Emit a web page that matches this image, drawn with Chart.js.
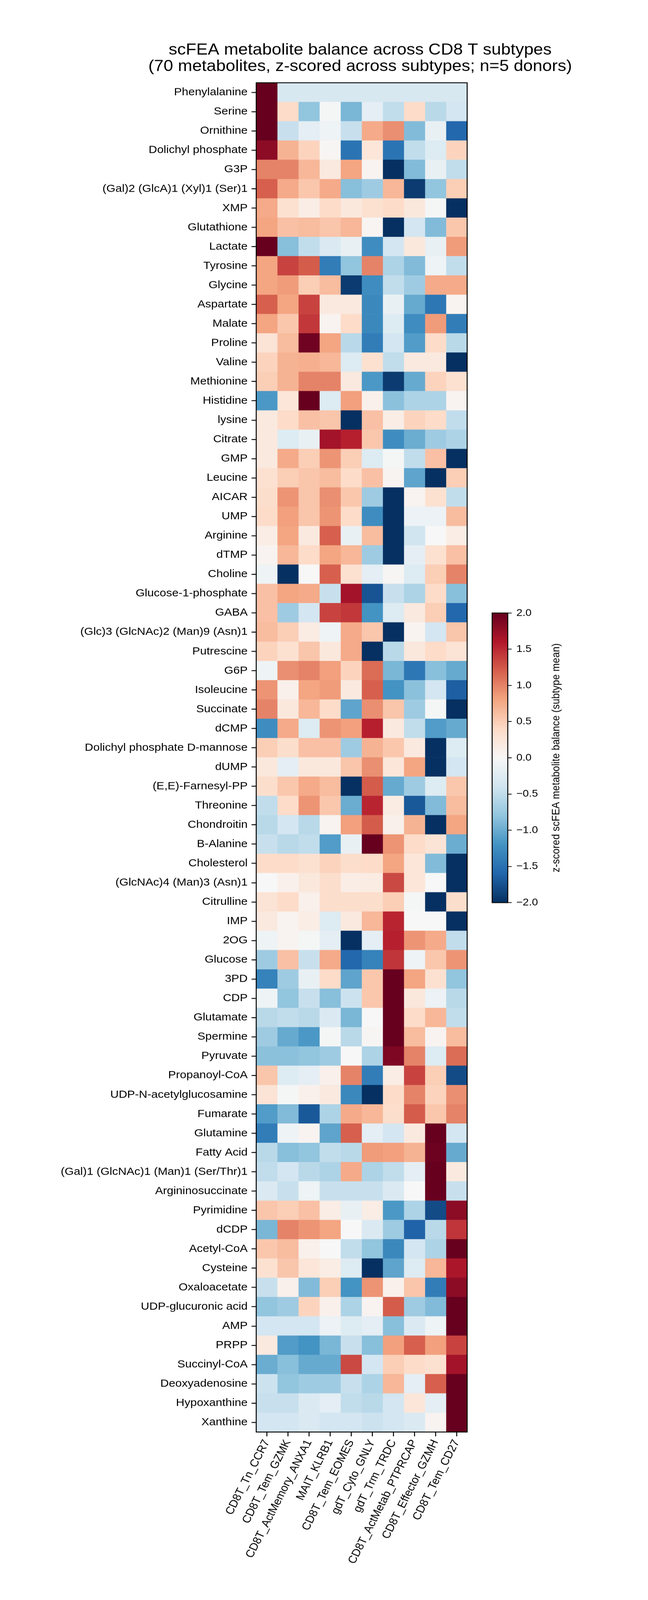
<!DOCTYPE html>
<html lang="en">
<head>
<meta charset="UTF-8">
<title>scFEA metabolite balance across CD8 T subtypes</title>
<script src="https://cdn.jsdelivr.net/npm/chart.js@4.4.1/dist/chart.umd.min.js"></script>
<style>
  html, body { margin: 0; padding: 0; overflow: hidden; background: #fff; }
  canvas { position: absolute; display: block; }
</style>
</head>
<body>
<!-- both canvases are sized in viewport units so the 1659x4486 drawing always fills the window -->
<canvas id="heatmap" width="1659" height="4486"
        style="left:0; top:0; width:100vw; height:100vh;"></canvas>
<canvas id="colorbar" width="260" height="870"
        style="left:calc(100vw * 1240 / 1659); top:calc(100vh * 1690 / 4486);
               width:calc(100vw * 260 / 1659); height:calc(100vh * 870 / 4486);"></canvas>

<script>
const titleLines = [
  'scFEA metabolite balance across CD8 T subtypes',
  '(70 metabolites, z-scored across subtypes; n=5 donors)'
];
const colorbarLabel = 'z-scored scFEA metabolite balance (subtype mean)';

// rows of the heatmap, top to bottom
const metabolites = [
  'Phenylalanine', 'Serine', 'Ornithine', 'Dolichyl phosphate', 'G3P',
  '(Gal)2 (GlcA)1 (Xyl)1 (Ser)1', 'XMP', 'Glutathione', 'Lactate', 'Tyrosine',
  'Glycine', 'Aspartate', 'Malate', 'Proline', 'Valine',
  'Methionine', 'Histidine', 'lysine', 'Citrate', 'GMP',
  'Leucine', 'AICAR', 'UMP', 'Arginine', 'dTMP',
  'Choline', 'Glucose-1-phosphate', 'GABA', '(Glc)3 (GlcNAc)2 (Man)9 (Asn)1', 'Putrescine',
  'G6P', 'Isoleucine', 'Succinate', 'dCMP', 'Dolichyl phosphate D-mannose',
  'dUMP', '(E,E)-Farnesyl-PP', 'Threonine', 'Chondroitin', 'B-Alanine',
  'Cholesterol', '(GlcNAc)4 (Man)3 (Asn)1', 'Citrulline', 'IMP', '2OG',
  'Glucose', '3PD', 'CDP', 'Glutamate', 'Spermine',
  'Pyruvate', 'Propanoyl-CoA', 'UDP-N-acetylglucosamine', 'Fumarate', 'Glutamine',
  'Fatty Acid', '(Gal)1 (GlcNAc)1 (Man)1 (Ser/Thr)1', 'Argininosuccinate', 'Pyrimidine', 'dCDP',
  'Acetyl-CoA', 'Cysteine', 'Oxaloacetate', 'UDP-glucuronic acid', 'AMP',
  'PRPP', 'Succinyl-CoA', 'Deoxyadenosine', 'Hypoxanthine', 'Xanthine'
];

// columns, left to right
const subtypes = [
  'CD8T_Tn_CCR7', 'CD8T_Tem_GZMK', 'CD8T_ActMemory_ANXA1', 'MAIT_KLRB1', 'CD8T_Tem_EOMES',
  'gdT_Cyto_GNLY', 'gdT_Trm_TRDC', 'CD8T_ActMetab_PTPRCAP', 'CD8T_Effector_GZMH', 'CD8T_Tem_CD27'
];

// z-scores per subtype, one value per metabolite (same order as above)
const tnCCR7 = [
  2.0, 2.0, 2.0, 1.8, 1.0, 1.2, 0.76, 0.8, 2.0, 0.8,
  0.8, 1.2, 0.8, 0.28, 0.45, 0.5, -1.16, 0.2, 0.2, 0.2,
  0.32, 0.36, 0.38, 0.15, 0.06, -0.1, 0.6, 0.6, 0.63, 0.45,
  -0.1, 0.9, 1.0, -1.25, 0.5, 0.22, 0.36, -0.5, -0.55, -0.46,
  0.38, 0.0, 0.28, 0.2, -0.1, -0.72, -1.35, -0.1, -0.55, -0.72,
  -0.83, 0.56, 0.28, -1.13, -1.4, -0.55, -0.5, -0.3, 0.56, -0.92,
  0.55, 0.32, -0.46, -0.8, -0.37, 0.2, -1.0, -0.43, -0.46, -0.37
];
const temGZMK = [
  -0.33, 0.38, -0.46, 0.7, 1.0, 0.76, 0.32, 0.6, -0.85, 1.36,
  0.85, 0.8, 0.55, 0.63, 0.7, 0.7, 0.25, 0.38, -0.27, 0.76,
  0.5, 0.9, 0.83, 0.8, 0.67, -2.0, 0.8, -0.72, 0.5, 0.32,
  0.93, 0.1, 0.22, 0.76, 0.36, -0.2, 0.55, 0.38, -0.37, -0.55,
  0.38, 0.1, 0.38, 0.06, 0.06, 0.6, -0.72, -0.8, -0.5, -1.02,
  -0.83, -0.27, -0.03, -0.88, -0.1, -0.85, -0.37, -0.46, 0.5, 1.0,
  0.63, 0.56, 0.1, -0.72, -0.37, -1.13, -0.85, -0.8, -0.46, -0.37
];
const actMemANXA1 = [
  -0.33, -0.8, -0.2, 0.45, 0.67, 0.55, 0.15, 0.63, -0.5, 1.22,
  0.5, 1.36, 1.42, 1.95, 0.72, 1.0, 2.0, 0.6, -0.15, 0.5,
  0.56, 0.56, 0.56, 0.2, 0.38, 0.0, 0.76, -0.37, 0.17, 0.56,
  1.0, 0.8, 0.67, -0.27, 0.6, 0.22, 0.76, 0.9, -0.55, -0.5,
  0.32, 0.22, 0.1, 0.15, -0.03, -0.46, -0.15, -0.46, -0.55, -1.16,
  -0.8, -0.2, 0.1, -1.7, 0.06, -0.8, -0.55, -0.1, 0.6, 0.9,
  0.1, 0.25, -0.88, 0.45, -0.37, -1.2, -1.02, -0.72, -0.3, -0.3
];
const maitKLRB1 = [
  -0.33, -0.03, -0.1, 0.03, 0.2, 0.76, 0.38, 0.56, -0.3, -1.4,
  0.63, 0.2, 0.06, 0.8, 0.67, 1.0, -0.27, 0.56, 1.68, 0.9,
  0.63, 0.93, 0.9, 1.2, 0.8, 1.2, -0.46, 1.36, -0.1, 0.22,
  0.83, 0.85, 0.38, 0.9, 0.6, 0.22, 0.63, 0.55, 0.06, -1.13,
  0.45, 0.36, 0.36, -0.27, -0.2, 0.76, 0.38, -0.85, -0.3, -0.03,
  -0.72, 0.1, 0.2, -0.63, -1.06, -0.5, -0.63, -0.46, 0.15, 0.8,
  0.0, 0.15, 0.5, 0.1, -0.12, -0.92, -1.02, -0.72, -0.2, -0.37
];
const temEOMES = [
  -0.33, -0.92, -0.46, -1.48, 0.8, -0.85, 0.22, 0.67, -0.15, -0.8,
  -1.92, 0.2, 0.38, -0.55, -0.27, 0.2, 0.83, -2.0, 1.56, 0.5,
  0.38, 0.55, 0.38, -0.15, 0.67, 0.32, 1.68, 1.42, 0.76, 0.76,
  0.45, 0.2, -1.06, 0.83, -0.72, 0.56, -2.0, -1.0, 0.83, -0.15,
  0.36, 0.15, 0.36, 0.2, -2.0, -1.58, -1.06, -0.43, -0.92, -0.55,
  0.0, 1.0, -1.3, 0.76, 1.2, -0.55, 0.76, -0.46, -0.15, 0.0,
  -0.5, -0.27, -1.2, -0.63, -0.27, -0.46, 1.33, -0.46, -0.5, -0.37
];
const cytoGNLY = [
  -0.33, -0.2, 0.76, 0.25, 0.06, -0.72, 0.32, 0.04, -1.25, 1.0,
  -1.25, -1.3, -1.3, -1.4, 0.32, -1.16, 0.1, 0.6, 0.55, -0.27,
  0.6, -0.72, -1.25, 0.63, -0.72, -0.2, -1.73, -1.2, 0.55, -2.0,
  1.13, 1.2, 0.93, 1.56, 0.7, 0.93, 1.22, 1.53, 1.22, 2.0,
  0.38, 0.17, 0.36, 0.67, -0.2, -1.35, 0.55, 0.55, 0.0, 0.03,
  -0.63, -1.4, -2.0, 0.67, -0.2, 0.85, -0.63, -0.46, 0.15, -0.3,
  -0.8, -2.0, 0.9, 0.06, -0.2, -0.85, -0.37, -0.63, -0.55, -0.43
];
const trmTRDC = [
  -0.33, -0.5, 0.93, -1.48, -2.0, 0.67, 0.38, -2.0, -0.37, -0.63,
  -0.5, -0.15, -0.27, -0.37, -0.5, -1.92, -0.83, 0.15, -1.25, -0.03,
  0.06, -2.0, -2.0, -2.0, -2.0, 0.03, -0.46, -0.27, -2.0, -0.55,
  -0.92, -1.2, 0.56, 0.2, 0.55, 0.25, -1.02, 0.17, 0.1, 0.9,
  0.8, 1.33, 0.5, 1.53, 1.56, 1.44, 2.0, 2.0, 2.0, 2.0,
  1.88, 0.15, 0.38, 0.36, -0.37, 0.83, -0.5, -0.3, -1.16, -0.72,
  -1.3, -1.06, 0.1, 1.22, -0.85, 0.83, 0.5, 0.67, -0.37, -0.37
];
const actMetabPTPRCAP = [
  -0.33, 0.38, -0.88, -0.5, -0.88, -1.92, 0.22, -0.37, 0.22, -0.88,
  -0.72, -1.02, -1.25, -1.13, 0.2, -1.02, -0.63, 0.45, -1.0, -0.5,
  -1.06, 0.06, -0.12, -0.4, -0.2, -0.27, -0.63, 0.2, 0.06, 0.22,
  -1.45, -0.83, -0.72, -0.5, 0.2, 0.8, -0.72, -1.7, 0.7, 0.38,
  0.25, 0.25, -0.03, 0.0, 0.9, -0.1, 0.8, 0.22, 0.38, 0.63,
  1.0, 1.36, 1.0, 1.22, 0.2, 0.7, -0.2, 0.0, -0.63, -1.62,
  -0.37, -0.27, 0.56, -0.72, -0.3, 1.2, 0.38, -0.2, 0.25, -0.3
];
const effectorGZMH = [
  -0.33, -0.55, -0.15, -0.27, -0.15, -0.8, -0.03, -0.88, -0.15, -0.1,
  0.76, -1.45, 0.85, 0.38, 0.2, 0.45, -0.63, 0.38, -0.72, 0.6,
  -2.0, 0.32, -0.12, 0.0, 0.32, 0.5, 0.38, 0.5, -0.37, 0.38,
  -0.85, -0.37, -0.03, -1.13, -2.0, -2.0, -0.27, -0.88, -2.0, 0.28,
  -0.88, 0.0, -2.0, 0.0, 0.76, 0.55, 0.32, -0.12, 0.67, 0.06,
  -0.27, 0.5, 0.45, 0.55, 2.0, 1.97, 2.0, 2.0, -1.8, -0.55,
  -0.63, 0.67, -1.4, -0.88, -0.1, 0.83, 0.32, 1.2, -0.2, 0.06
];
const temCD27 = [
  -0.33, -0.37, -1.58, 0.45, -0.5, 0.5, -2.0, 0.55, 0.85, -0.5,
  0.76, 0.06, -1.4, -0.55, -2.0, 0.32, 0.06, -0.5, -0.63, -2.0,
  0.5, -0.5, 0.63, 0.15, 0.6, 1.0, -0.85, -1.58, 0.56, 0.28,
  -1.02, -1.65, -2.0, -1.02, -0.27, -0.37, 0.55, 0.63, 0.8, -1.0,
  -2.0, -2.0, 0.36, -2.0, -0.5, 0.9, -0.8, -0.55, -0.5, 0.63,
  1.13, -1.8, 0.93, 1.0, -0.37, -1.02, 0.2, -0.46, 1.8, 1.44,
  2.0, 1.64, 1.8, 2.0, 2.0, 1.36, 1.68, 2.0, 2.0, 2.0
];

const columns = [tnCCR7, temGZMK, actMemANXA1, maitKLRB1, temEOMES,
                 cytoGNLY, trmTRDC, actMetabPTPRCAP, effectorGZMH, temCD27];

const colorbarTicks = [-2, -1.5, -1, -0.5, 0, 0.5, 1, 1.5, 2];

// RdBu_r, evenly spaced from -2 to 2
const rdbu = ['#053061', '#2166ac', '#4393c3', '#92c5de', '#d1e5f0', '#f7f7f7',
              '#fddbc7', '#f4a582', '#d6604d', '#b2182b', '#67001f'];
const vmin = -2, vmax = 2;

const FONT = '"Liberation Sans", Arial, Helvetica, sans-serif';

function hexToRgb(h) {
  return [1, 3, 5].map(i => parseInt(h.substr(i, 2), 16));
}
const rdbuRgb = rdbu.map(hexToRgb);

function rdbuColor(v) {
  const t = (Math.min(vmax, Math.max(vmin, v)) - vmin) / (vmax - vmin) * (rdbu.length - 1);
  const i = Math.min(rdbu.length - 2, Math.floor(t));
  const f = t - i;
  const a = rdbuRgb[i], b = rdbuRgb[i + 1];
  const c = a.map((x, k) => Math.round(x + (b[k] - x) * f));
  return 'rgb(' + c.join(',') + ')';
}

Chart.defaults.font.family = FONT;
Chart.defaults.color = '#000';

// black box round the plot area, like the matplotlib spines
const frame = {
  id: 'frame',
  afterDatasetsDraw(chart) {
    const { ctx, chartArea: a } = chart;
    ctx.save();
    ctx.strokeStyle = '#000';
    ctx.lineWidth = 2.5;
    ctx.strokeRect(a.left, a.top, a.right - a.left, a.bottom - a.top);
    ctx.restore();
  }
};

// two-line title centred over the heatmap (Chart.js' own title squeezes long text into the box width)
const figTitle = {
  id: 'figTitle',
  afterDraw(chart) {
    const { ctx, chartArea: a } = chart;
    ctx.save();
    ctx.font = '44px ' + FONT;
    ctx.fillStyle = '#000';
    ctx.textAlign = 'center';
    ctx.textBaseline = 'middle';
    const cx = (a.left + a.right) / 2 - 4;
    titleLines.forEach((line, i) => ctx.fillText(line, cx, 141 + i * 46));
    ctx.restore();
  }
};

new Chart(document.getElementById('heatmap'), {
  type: 'bar',
  data: {
    labels: metabolites,
    datasets: columns.map((col, c) => ({
      label: subtypes[c],
      data: metabolites.map(() => [c, c + 1]),
      backgroundColor: col.map(rdbuColor),
      borderWidth: 0,
      barPercentage: 1,
      categoryPercentage: 1
    }))
  },
  options: {
    indexAxis: 'y',
    responsive: false,
    devicePixelRatio: 1,
    animation: false,
    layout: { padding: { left: 0, right: 463, top: 232, bottom: 0 } },
    plugins: {
      legend: { display: false },
      tooltip: { enabled: false },
      title: { display: false }
    },
    scales: {
      x: {
        type: 'linear',
        min: 0,
        max: 10,
        afterBuildTicks: axis => { axis.ticks = subtypes.map((s, i) => ({ value: i + 0.5 })); },
        afterFit: axis => { axis.height = 471; },
        border: { display: false },
        grid: { drawOnChartArea: false, tickLength: 12, lineWidth: 2.5, color: '#000' },
        ticks: {
          autoSkip: false,
          minRotation: 65,
          maxRotation: 65,
          padding: 4,
          font: { size: 30 },
          callback: v => subtypes[Math.floor(v)]
        }
      },
      y: {
        stacked: true,
        afterFit: axis => { axis.width = 656; },
        border: { display: false },
        grid: { offset: false, drawOnChartArea: false, tickLength: 12, lineWidth: 2.5, color: '#000' },
        ticks: { autoSkip: false, padding: 10, font: { size: 30 } }
      }
    }
  },
  plugins: [frame, figTitle]
});

// colour bar: one bar from vmin to vmax painted with the colormap
const cbarTitle = {
  id: 'cbarTitle',
  afterDraw(chart) {
    const { ctx, chartArea: a } = chart;
    ctx.save();
    ctx.translate(184, (a.top + a.bottom) / 2);
    ctx.rotate(-Math.PI / 2);
    ctx.font = '28px ' + FONT;
    ctx.fillStyle = '#000';
    ctx.textAlign = 'center';
    ctx.textBaseline = 'middle';
    ctx.fillText(colorbarLabel, 0, 0);
    ctx.restore();
  }
};

new Chart(document.getElementById('colorbar'), {
  type: 'bar',
  data: {
    labels: [''],
    datasets: [{
      data: [[vmin, vmax]],
      borderWidth: 0,
      barPercentage: 1,
      categoryPercentage: 1,
      backgroundColor: ctx => {
        const a = ctx.chart.chartArea;
        if (!a) return rdbu[5];
        const g = ctx.chart.ctx.createLinearGradient(0, a.bottom, 0, a.top);
        rdbu.forEach((c, k) => g.addColorStop(k / (rdbu.length - 1), c));
        return g;
      }
    }]
  },
  options: {
    responsive: false,
    devicePixelRatio: 1,
    animation: false,
    layout: { padding: { left: 20, top: 22, bottom: 24, right: 0 } },
    plugins: { legend: { display: false }, tooltip: { enabled: false } },
    scales: {
      x: { display: false },
      y: {
        position: 'right',
        min: vmin,
        max: vmax,
        afterBuildTicks: axis => { axis.ticks = colorbarTicks.map(v => ({ value: v })); },
        afterFit: axis => { axis.width = 200; },
        border: { display: false },
        grid: { drawOnChartArea: false, tickLength: 10, lineWidth: 2, color: '#000' },
        ticks: {
          padding: 12,
          font: { size: 28 },
          callback: v => v.toFixed(1).replace('-', '\u2212')
        }
      }
    }
  },
  plugins: [frame, cbarTitle]
});
</script>
</body>
</html>
